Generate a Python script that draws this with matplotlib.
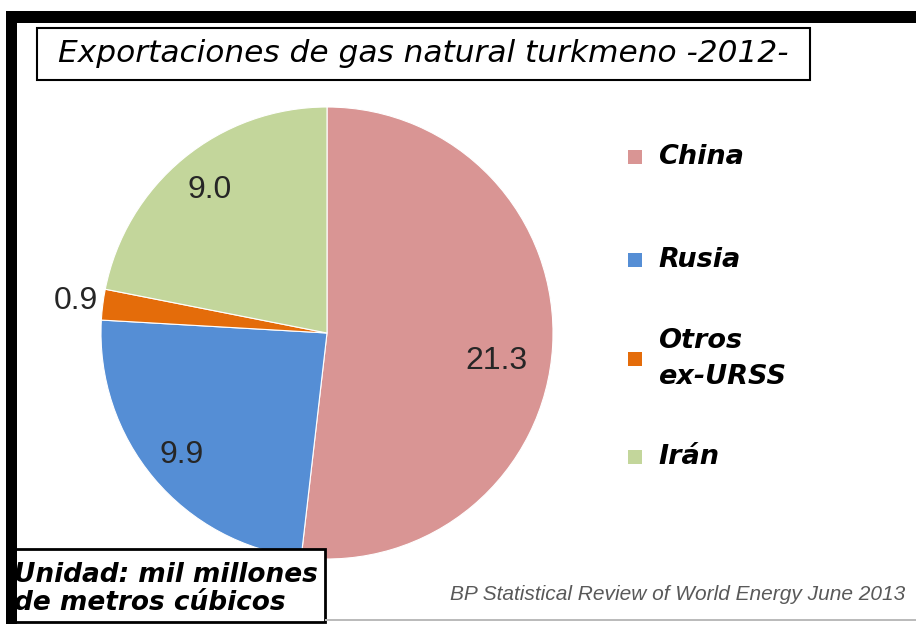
"""Turkmen natural gas exports 2012 - pie chart."""

import numpy as np
import matplotlib
matplotlib.use("Agg")
import matplotlib.pyplot as plt
from matplotlib.patches import Rectangle

categories = ["China", "Rusia", "Otros\nex-URSS", "Irán"]
values = [21.3, 9.9, 0.9, 9.0]
value_labels = ["21.3", "9.9", "0.9", "9.0"]
colors = ["#D99594", "#558ED5", "#E46C0A", "#C3D69B"]

W, H = 916, 624
fig = plt.figure(figsize=(W / 100, H / 100), dpi=100)
fig.patch.set_facecolor("white")


def px_box(x0, y0, x1, y1):
    """Convert pixel box (top-left origin) to figure fraction rect."""
    return (x0 / W, 1 - y1 / H, (x1 - x0) / W, (y1 - y0) / H)


def add_rect(x0, y0, x1, y1, **kw):
    fig.patches.append(Rectangle(px_box(x0, y0, x1, y1)[:2],
                                 (x1 - x0) / W, (y1 - y0) / H,
                                 transform=fig.transFigure, **kw))


# pie axes: centre (327, 333), radius 226 px
cx, cy, r = 327, 333, 226
ax = fig.add_axes(px_box(cx - r, cy - r, cx + r, cy + r))
wedges, _ = ax.pie(values, colors=colors, startangle=90, counterclock=False,
                   radius=1.0, wedgeprops=dict(edgecolor="white", linewidth=0.8))
ax.set_xlim(-1, 1)
ax.set_ylim(-1, 1)
ax.set_aspect("equal")
ax.axis("off")

# value labels
label_dist = [0.76, 0.84, 1.12, 0.82]
label_shift = [-6, 0, 0, 0]
for w, txt, d, s in zip(wedges, value_labels, label_dist, label_shift):
    ang = np.deg2rad((w.theta1 + w.theta2) / 2 + s)
    ax.text(d * np.cos(ang), d * np.sin(ang), txt, ha="center", va="center",
            fontsize=23, color="#262626", family="Liberation Sans",
            clip_on=False)

# legend drawn by hand
leg_y = [157, 260, 359, 457]
for name, col, y in zip(categories, colors, leg_y):
    add_rect(628, y - 7, 642, y + 7, facecolor=col, edgecolor="none")
    fig.text(658 / W, 1 - y / H, name, ha="left", va="center", fontsize=19.5,
             style="italic", weight="bold", family="DejaVu Sans",
             linespacing=1.55)

# title box
tx0, ty0, tx1, ty1 = 37, 28, 810, 80
add_rect(tx0, ty0, tx1, ty1, facecolor="white", edgecolor="black",
         linewidth=1.5)
fig.text((tx0 + tx1) / 2 / W, 1 - 53 / H,
         "Exportaciones de gas natural turkmeno -2012-",
         ha="center", va="center", fontsize=22.5, style="italic",
         family="DejaVu Sans")

# unit box
add_rect(10, 549, 325, 622, facecolor="white", edgecolor="black", linewidth=2)
fig.text(14 / W, 1 - 589 / H, "Unidad: mil millones\nde metros cúbicos",
         ha="left", va="center", fontsize=19, style="italic", weight="bold",
         family="DejaVu Sans", linespacing=1.15)

# source
fig.text(905 / W, 1 - 594 / H,
         "BP Statistical Review of World Energy June 2013",
         ha="right", va="center", fontsize=15, style="italic",
         color="#595959", family="Liberation Sans")

# frame bars
add_rect(6, 11, W, 23, facecolor="black", edgecolor="none")
add_rect(6, 11, 17, H, facecolor="black", edgecolor="none")
add_rect(325, 619, W, 621, facecolor="#BBBBBB", edgecolor="none")

fig.savefig("out.png", dpi=100)
